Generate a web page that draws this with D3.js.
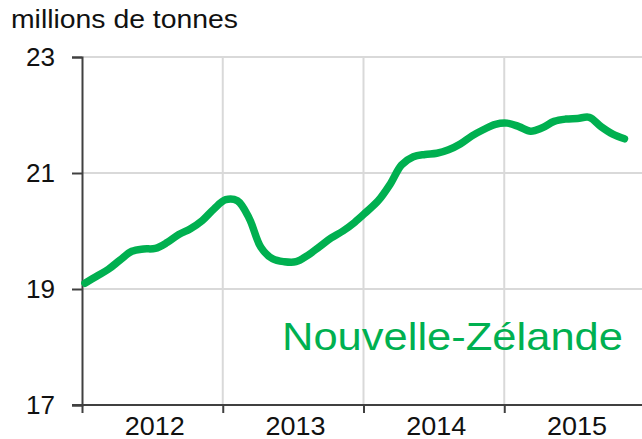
<!DOCTYPE html>
<html lang="fr">
<head>
<meta charset="utf-8">
<style>
  body { margin: 0; background: #fff; }
  svg { display: block; font-family: "Liberation Sans", Arial, sans-serif; }
</style>
</head>
<body>
<script src="https://d3js.org/d3.v7.min.js"></script>
<svg id="chart" width="642" height="439"></svg>
<script>
// monthly values, Jan 2012 .. Nov 2015 (millions de tonnes)
var months = d3.range(47);
var values = [19.10, 19.22, 19.34, 19.50, 19.65, 19.69, 19.70, 19.80, 19.94, 20.04, 20.18, 20.38,
              20.54, 20.52, 20.22, 19.72, 19.52, 19.47, 19.47, 19.58, 19.73, 19.88, 20.00, 20.15,
              20.33, 20.52, 20.80, 21.14, 21.28, 21.32, 21.34, 21.40, 21.50, 21.64, 21.75, 21.84,
              21.86, 21.80, 21.72, 21.78, 21.89, 21.93, 21.94, 21.96, 21.80, 21.67, 21.59];
var yearLabels = ["2012", "2013", "2014", "2015"];
var yTicks = [17, 19, 21, 23];
var seriesName = "Nouvelle-Zélande";
var unit = "millions de tonnes";

var svg = d3.select("#chart");
var green = "#00b050";

var x = d3.scaleLinear().domain([0, 48]).range([82, 645]);
var y = d3.scaleLinear().domain([17, 23]).range([405, 57]);

// horizontal gridlines
svg.append("g")
    .selectAll("line")
    .data(yTicks.slice(1))
    .enter()
    .append("line")
    .attr("x1", x(0)).attr("x2", 642)
    .attr("y1", function (d) { return y(d) }).attr("y2", function (d) { return y(d) })
    .style("stroke", "#d9d9d9").style("stroke-width", 2)

// vertical gridlines at year boundaries
svg.append("g")
    .selectAll("line")
    .data([12, 24, 36])
    .enter()
    .append("line")
    .attr("x1", function (d) { return x(d) }).attr("x2", function (d) { return x(d) })
    .attr("y1", y(23)).attr("y2", y(17))
    .style("stroke", "#d9d9d9").style("stroke-width", 2)

// y axis
var yAxis = svg.append("g")
    .attr("transform", "translate(" + x(0) + ",0)")
    .call(d3.axisLeft(y).tickValues(yTicks).tickSize(10).tickPadding(17).tickFormat(d3.format("d")))
yAxis.select(".domain").style("stroke", "#404040").style("stroke-width", 2)
yAxis.selectAll(".tick line").style("stroke", "#404040").style("stroke-width", 2)
yAxis.selectAll(".tick text")
    .style("font-size", "25px").style("fill", "#111")
    .attr("font-family", null)
    .attr("textLength", 29).attr("lengthAdjust", "spacingAndGlyphs")

// x axis: ticks at year boundaries, labels centred in each year
var xAxis = svg.append("g")
    .attr("transform", "translate(0," + y(17) + ")")
    .call(d3.axisBottom(x).tickValues([0, 12, 24, 36, 48]).tickSize(8).tickFormat(""))
xAxis.select(".domain").attr("d", "M72,0H642").style("stroke", "#404040").style("stroke-width", 2)
xAxis.selectAll(".tick line").style("stroke", "#404040").style("stroke-width", 2)

svg.append("g")
    .selectAll("text")
    .data(yearLabels)
    .enter()
    .append("text")
    .attr("x", function (d, i) { return x(i * 12 + 6.2) })
    .attr("y", 435)
    .attr("text-anchor", "middle")
    .attr("textLength", 60).attr("lengthAdjust", "spacingAndGlyphs")
    .style("font-size", "25px").style("fill", "#111")
    .text(function (d) { return d })

// unit title
svg.append("text")
    .attr("x", 11).attr("y", 28)
    .attr("textLength", 227).attr("lengthAdjust", "spacingAndGlyphs")
    .style("font-size", "25px").style("fill", "#111")
    .text(unit)

// the series (points sit a quarter month in)
var line = d3.line()
    .x(function (d, i) { return x(months[i] + 0.25) })
    .y(function (d) { return y(d) })
    .curve(d3.curveCatmullRom)

svg.append("path")
    .datum(values)
    .attr("d", line)
    .style("fill", "none")
    .style("stroke", green)
    .style("stroke-width", 7.5)
    .style("stroke-linecap", "round")
    .style("stroke-linejoin", "round")

// series label
svg.append("text")
    .attr("x", 282).attr("y", 350)
    .attr("textLength", 341).attr("lengthAdjust", "spacingAndGlyphs")
    .style("font-size", "39px").style("fill", green)
    .text(seriesName)
</script>
</body>
</html>
